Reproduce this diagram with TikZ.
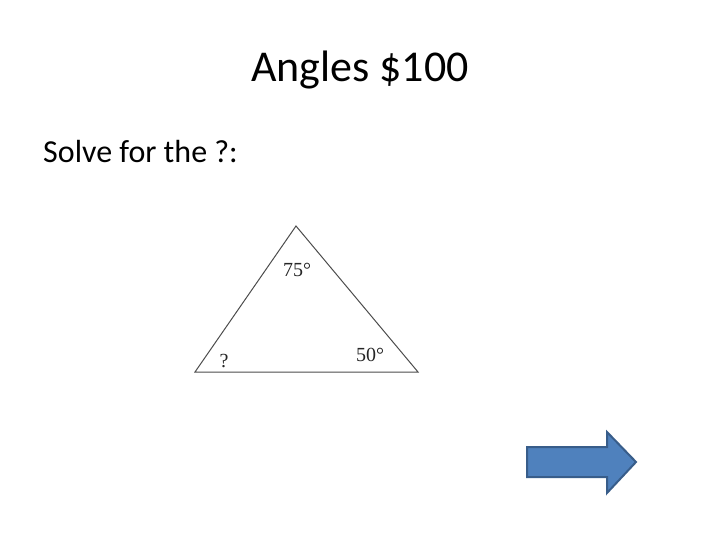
\documentclass[tikz,border=0pt]{standalone}
\usepackage{fontspec}
\setmainfont{Carlito}
\newfontfamily\figfont{Liberation Serif}
\usetikzlibrary{positioning}
\definecolor{arrowfill}{HTML}{4F81BD}
\definecolor{arrowline}{HTML}{385D8A}

\begin{document}
\begin{tikzpicture}[
  x=1pt, y=-1pt,
  title/.style={font=\fontsize{44}{50}\selectfont, inner sep=0pt},
  body/.style={font=\fontsize{32}{38}\selectfont, inner sep=0pt, anchor=west},
  angle/.style={font=\figfont\fontsize{20}{22}\selectfont, inner sep=0pt, text=black!85},
  side/.style={draw=black!70, line width=1pt},
  nextarrow/.style={fill=arrowfill, draw=arrowline, line width=2pt, line join=miter}
]
\useasboundingbox (0,0) rectangle (720,540);

% Title
\node[title] (title) at (360,70) {Angles \$100};

% Question
\node[body] (question) at (43,152) {Solve for the ?:};

% Triangle
\coordinate (top) at (296,226);
\coordinate (left) at (195,372);
\coordinate (right) at (418,372);
\draw[side] (top) -- (right) -- (left) -- cycle;

% Angle labels
\node[angle] (atop) at (297,270) {75°};
\node[angle] (aleft) at (224,361) {?};
\node[angle] (aright) at (370,355) {50°};

% Next arrow
\draw[nextarrow] (527,447) -- (607,447) -- (607,432) -- (636,462)
  -- (607,493) -- (607,477) -- (527,477) -- cycle;

\end{tikzpicture}
\end{document}
